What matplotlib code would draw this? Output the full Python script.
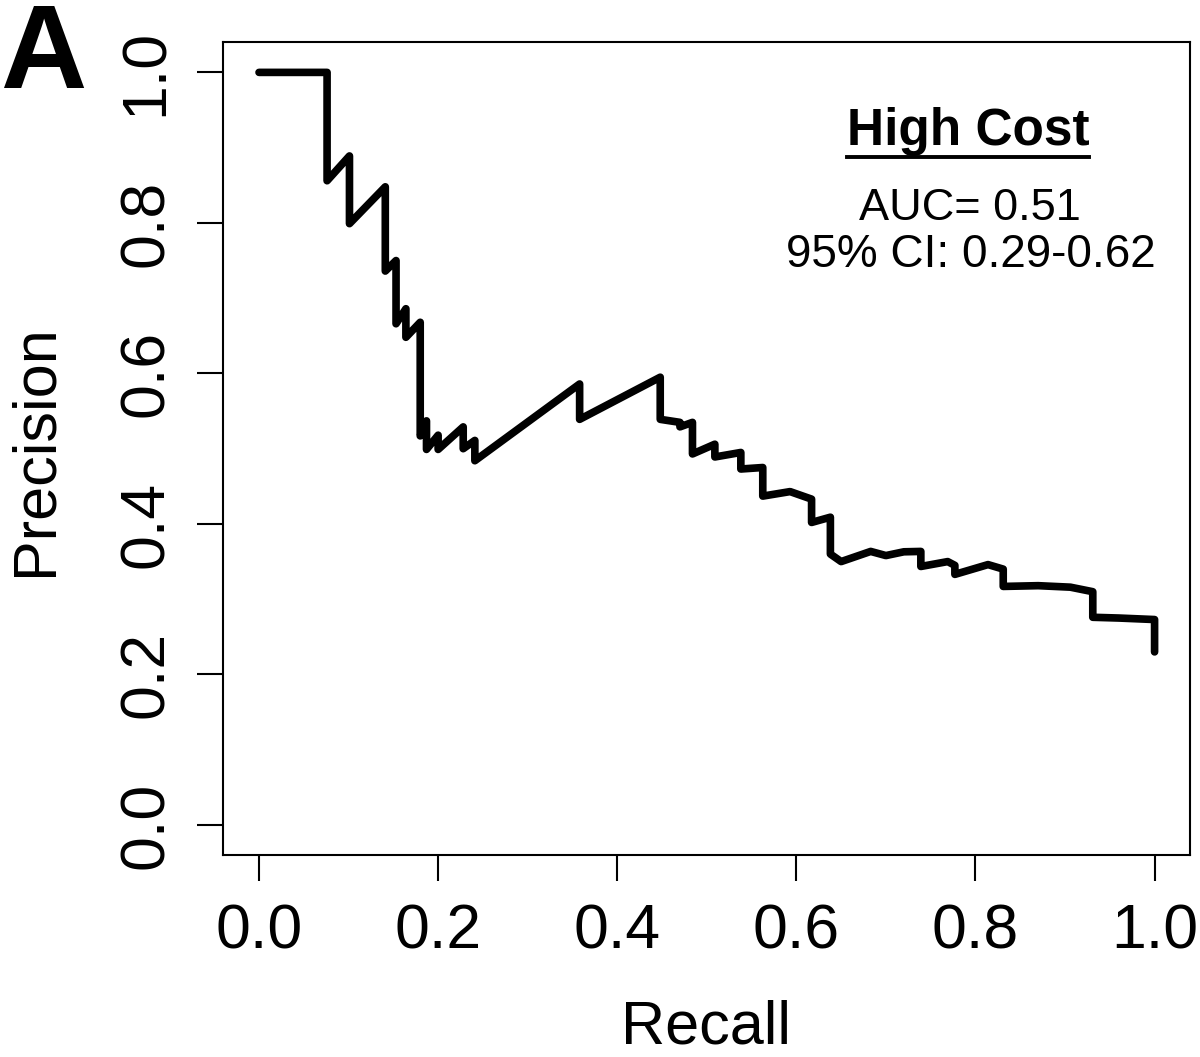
import matplotlib
matplotlib.use('Agg')
import matplotlib.pyplot as plt
from matplotlib.lines import Line2D

plt.rcParams['font.family'] = ['Liberation Sans', 'DejaVu Sans']

# precision-recall curve
recall = [0.000, 0.076, 0.076, 0.101, 0.101, 0.141, 0.141, 0.153, 0.153,
          0.164, 0.164, 0.180, 0.180, 0.187, 0.187, 0.200, 0.200, 0.228,
          0.228, 0.241, 0.241, 0.358, 0.358, 0.448, 0.448, 0.470, 0.470,
          0.484, 0.484, 0.509, 0.509, 0.538, 0.538, 0.5625, 0.5625, 0.593,
          0.617, 0.617, 0.638, 0.638, 0.650, 0.683, 0.700, 0.720, 0.739,
          0.739, 0.769, 0.777, 0.777, 0.814, 0.831, 0.831, 0.870, 0.906,
          0.931, 0.931, 0.960, 1.000, 1.000]
precision = [1.000, 1.000, 0.856, 0.889, 0.799, 0.848, 0.736, 0.750, 0.666,
             0.686, 0.648, 0.668, 0.517, 0.537, 0.499, 0.518, 0.499, 0.529,
             0.500, 0.511, 0.484, 0.586, 0.539, 0.595, 0.539, 0.535, 0.529,
             0.535, 0.493, 0.506, 0.489, 0.495, 0.473, 0.475, 0.437, 0.443,
             0.433, 0.402, 0.409, 0.360, 0.350, 0.3635, 0.358, 0.363, 0.3635,
             0.3435, 0.350, 0.345, 0.333, 0.346, 0.340, 0.317, 0.318, 0.316,
             0.310, 0.276, 0.275, 0.273, 0.230]

ticks = [0.0, 0.2, 0.4, 0.6, 0.8, 1.0]
tick_labels = ['0.0', '0.2', '0.4', '0.6', '0.8', '1.0']

fig = plt.figure(figsize=(12.0, 10.57), dpi=100)
ax = fig.add_axes([0.186, 0.191, 0.806, 0.769])

ax.plot(recall, precision, color='black', lw=5.5,
        solid_joinstyle='round', solid_capstyle='round')

ax.set_xlim(-0.04, 1.04)
ax.set_ylim(-0.04, 1.04)
ax.set_xticks(ticks)
ax.set_xticklabels(tick_labels)
ax.set_yticks(ticks)
ax.set_yticklabels(tick_labels, rotation=90, va='center')
ax.tick_params(axis='both', length=19, width=1.5, labelsize=45, color='black')
ax.tick_params(axis='x', pad=15)
ax.tick_params(axis='y', pad=15)
for sp in ax.spines.values():
    sp.set_linewidth(1.5)

fig.text(706 / 1200, 1 - 1044 / 1057, 'Recall', fontsize=44,
         ha='center', va='baseline')
fig.text(52 / 1200, 1 - 450 / 1057, 'Precision', fontsize=44, rotation=90,
         rotation_mode='anchor', ha='center', va='baseline')
fig.text(0.0, 1 - 88 / 1057, 'A', fontsize=86, fontweight='bold',
         ha='left', va='baseline')

title = fig.text(968 / 1200, 1 - 145 / 1057, 'High Cost', fontsize=37,
                 fontweight='bold', ha='center', va='baseline')
fig.text(970 / 1200, 1 - 220 / 1057, 'AUC= 0.51', fontsize=32.5,
         ha='center', va='baseline')
fig.text(971 / 1200, 1 - 267 / 1057, '95% CI: 0.29-0.62', fontsize=33,
         ha='center', va='baseline')

# underline under the title
r = fig.canvas.get_renderer()
bb = title.get_window_extent(renderer=r).transformed(fig.transFigure.inverted())
uy = 1 - 157 / 1057
fig.add_artist(Line2D([bb.x0, bb.x1], [uy, uy], color='black', lw=2.8,
                      transform=fig.transFigure))

fig.savefig('out.png', dpi=100)
